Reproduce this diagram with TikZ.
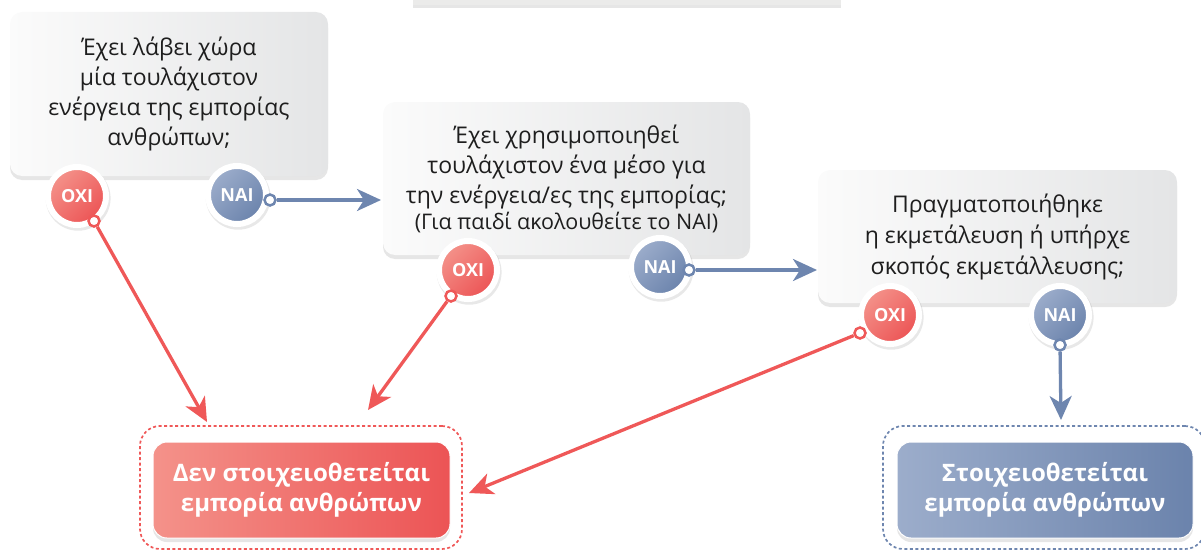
\documentclass[tikz,border=0pt]{standalone}
\usepackage{fontspec}
\setmainfont{Open Sans}
\usetikzlibrary{shadows,arrows.meta}
\definecolor{redA}{HTML}{F4928A}
\definecolor{redB}{HTML}{EC5455}
\definecolor{blueA}{HTML}{9CADCB}
\definecolor{blueB}{HTML}{6B83AC}
\definecolor{lineRed}{HTML}{EF5858}
\definecolor{lineBlue}{HTML}{6E86AF}
\definecolor{boxL}{HTML}{FBFBFB}
\definecolor{boxR}{HTML}{E4E5E6}
\definecolor{txt}{HTML}{1E1E1E}
\definecolor{topgray}{HTML}{EBEBEA}
\begin{document}
\begin{tikzpicture}[x=1pt,y=-1pt,
  qbox/.style={rounded corners=12pt, left color=boxL, right color=boxR,
    drop shadow={shadow xshift=0pt, shadow yshift=-4pt, opacity=0.2},
    align=center, text=txt, font=\fontsize{23}{30}\selectfont, inner sep=0pt},
  oxi/.style={circle, minimum size=58pt, inner sep=0pt, draw=white, line width=6pt,
    left color=redA, right color=redB, shading angle=45, text=white,
    font=\bfseries\fontsize{18}{18}\selectfont,
    drop shadow={shadow xshift=1pt, shadow yshift=-2pt, shadow scale=1.12, opacity=0.18}},
  nai/.style={oxi, left color=blueA, right color=blueB, shading angle=45},
  ringR/.style={circle, minimum size=11pt, inner sep=0pt, fill=white, draw=lineRed, line width=2.5pt},
  ringB/.style={ringR, draw=lineBlue},
  arrR/.style={draw=lineRed, line width=3.3pt, -{Stealth[length=24pt,width=22pt,inset=7pt]}},
  arrB/.style={arrR, draw=lineBlue},
  dboxR/.style={rounded corners=20pt, dash pattern=on 3pt off 2.5pt, line width=1.7pt, draw=lineRed,
    minimum width=322pt, minimum height=123pt, inner sep=0pt},
  dboxB/.style={dboxR, draw=lineBlue},
  oboxR/.style={rounded corners=14pt, draw=white, line width=1pt, left color=redA, right color=redB,
    drop shadow={shadow xshift=0pt, shadow yshift=-4pt, opacity=0.2},
    text=white, font=\bfseries\fontsize{24}{30}\selectfont, align=center,
    minimum width=297pt, minimum height=96pt, inner sep=0pt},
  oboxB/.style={oboxR, left color=blueA, right color=blueB}
]
\useasboundingbox (0,0) rectangle (1201,551);

% partial box at the top
\node[fill=topgray, minimum width=428pt, minimum height=20pt, inner sep=0pt,
  drop shadow={shadow xshift=0pt, shadow yshift=-3pt, opacity=0.2}] (topbox) at (627,-5) {};

% question boxes
\node[qbox, minimum width=318pt, minimum height=164pt] (q1) at (169,94)
  {Έχει λάβει χώρα\\μία τουλάχιστον\\ενέργεια της εμπορίας\\ανθρώπων;};
\node[qbox, minimum width=367pt, minimum height=153pt] (q2) at (566.5,178.5)
  {Έχει χρησιμοποιηθεί\\τουλάχιστον ένα μέσο για\\την ενέργεια/ες της εμπορίας;\\[-4pt]{\fontsize{21.5}{26}\selectfont (Για παιδί ακολουθείτε το ΝΑΙ)}};
\node[qbox, minimum width=359pt, minimum height=133pt, font=\fontsize{23}{31}\selectfont] (q3) at (997.5,236.5)
  {Πραγματοποιήθηκε\\η εκμετάλευση ή υπήρχε\\σκοπός εκμετάλλευσης;};

% outcome boxes
\node[dboxR] (d1) at (301,487.5) {};
\node[dboxB] (d2) at (1044,487.5) {};
\node[oboxR] (o1) at (301.5,490) {Δεν στοιχειοθετείται\\εμπορία ανθρώπων};
\node[oboxB, minimum width=296pt] (o2) at (1045,490) {Στοιχειοθετείται\\εμπορία ανθρώπων};

% answer circles
\node[oxi] (x1) at (77,196) {OXI};
\node[nai] (n1) at (237,195) {NAI};
\node[oxi] (x2) at (468,270) {OXI};
\node[nai] (n2) at (660,267) {NAI};
\node[oxi] (x3) at (890,315) {OXI};
\node[nai] (n3) at (1060,315) {NAI};

% connector rings
\node[ringR] (rx1) at (94,221) {};
\node[ringB] (rn1) at (270,200) {};
\node[ringR] (rx2) at (451,296) {};
\node[ringB] (rn2) at (689,270) {};
\node[ringR] (rx3) at (860,333) {};
\node[ringB] (rn3) at (1060,345) {};

% arrow ends
\coordinate (t1) at (207,422);
\coordinate (t2) at (381,200);
\coordinate (t3) at (368,410);
\coordinate (t4) at (817,270);
\coordinate (t5) at (469,493);
\coordinate (t6) at (1061,420);

\draw[arrR] (rx1) -- (t1);
\draw[arrB] (rn1) -- (t2);
\draw[arrR] (rx2) -- (t3);
\draw[arrB] (rn2) -- (t4);
\draw[arrR] (rx3) -- (t5);
\draw[arrB] (rn3) -- (t6);
\end{tikzpicture}
\end{document}
